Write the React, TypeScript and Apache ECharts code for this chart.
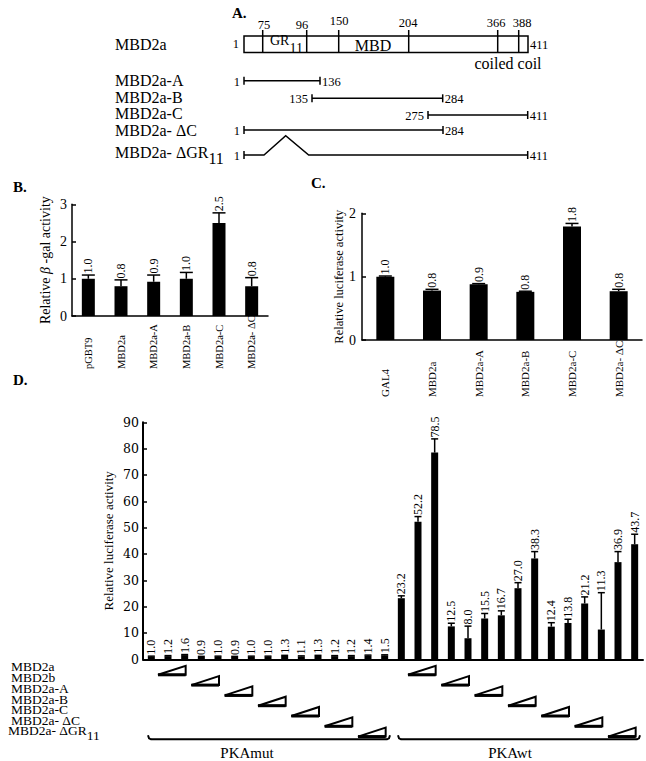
import React, { useEffect, useRef } from "react";
import * as echarts from "echarts";

const FONT = '"Liberation Serif", "Times New Roman", serif';

// ---------- Panel A (schematic) ----------
const domainSites = [75, 96, 150, 204, 366, 388];
const proteinStart = 1;
const proteinEnd = 411;
const constructNames = ["MBD2a-A", "MBD2a-B", "MBD2a-C", "MBD2a- ΔC", "MBD2a- ΔGR"];
const constructStarts = [1, 135, 275, 1, 1];
const constructEnds = [136, 284, 411, 284, 411];

// ---------- Panel B ----------
const bCategories = ["pGBT9", "MBD2a", "MBD2a-A", "MBD2a-B", "MBD2a-C", "MBD2a- ΔC"];
const bValues = [1.0, 0.8, 0.92, 1.0, 2.5, 0.8];
const bErrorTops = [1.1, 0.97, 1.1, 1.17, 2.77, 1.03];
const bLabels = ["1.0", "0.8", "0.9", "1.0", "2.5", "0.8"];

// ---------- Panel C ----------
const cCategories = ["GAL4", "MBD2a", "MBD2a-A", "MBD2a-B", "MBD2a-C", "MBD2a- ΔC"];
const cValues = [1.0, 0.78, 0.88, 0.76, 1.79, 0.77];
const cErrorTops = [1.01, 0.8, 0.89, 0.77, 1.84, 0.8];
const cLabels = ["1.0", "0.8", "0.9", "0.8", "1.8", "0.8"];

// ---------- Panel D ----------
const dGroups = ["PKAmut", "PKAwt"];
const dConstructs = ["MBD2a", "MBD2b", "MBD2a-A", "MBD2a-B", "MBD2a-C", "MBD2a- ΔC", "MBD2a- ΔGR"];
const dValues = [
  1.0, 1.2, 1.6, 0.9, 1.0, 0.9, 1.0, 1.0, 1.3, 1.1, 1.3, 1.2, 1.2, 1.4, 1.5,
  23.2, 52.2, 78.5, 12.5, 8.0, 15.5, 16.7, 27.0, 38.3, 12.4, 13.8, 21.2, 11.3, 36.9, 43.7,
];
const dErrorTops = [
  1.2, 1.4, 1.8, 1.1, 1.2, 1.1, 1.2, 1.2, 1.5, 1.3, 1.5, 1.4, 1.4, 1.6, 1.7,
  24.1, 54.2, 83.7, 13.7, 12.6, 17.4, 18.4, 29.1, 40.9, 13.9, 15.2, 23.7, 25.3, 40.9, 47.5,
];
const dLabels = [
  "1.0", "1.2", "1.6", "0.9", "1.0", "0.9", "1.0", "1.0", "1.3", "1.1", "1.3", "1.2", "1.2", "1.4", "1.5",
  "23.2", "52.2", "78.5", "12.5", "8.0", "15.5", "16.7", "27.0", "38.3", "12.4", "13.8", "21.2", "11.3", "36.9", "43.7",
];
const dTicks = { min: 0, max: 90, interval: 10 };

// ---------- layout (pixels, not data) ----------
const A_LAYOUT = {
  boxX: 244, boxY: 36, boxW: 284, boxH: 16.5,
  sitePx: [262.7, 306.7, 338.7, 408.7, 497.7, 518.7],
  siteLabelX: [264, 302, 339, 408, 496, 522],
  siteLabelY: [24.5, 24.5, 21, 23, 23, 23],
  lineY: [80.7, 98.3, 115, 130, 155],
  lineX: [[244, 320], [312, 442.7], [428, 527.7], [244, 443], [244, 527.7]],
  nameY: [80, 97.5, 113.3, 130, 153.3],
};
const D_ROW_Y = [666, 677, 688.5, 699, 709.5, 720, 731];
const D_GROUP_LABEL_SHIFT = [-22, -9];

function buildGraphic() {
  const els: any[] = [];
  const txt = (x: number, y: number, text: string, size: number, align = "left", extra: any = {}) => ({
    type: "text",
    x,
    y,
    style: {
      text,
      fill: "#000",
      font: `${extra.weight || "normal"} ${size}px ${FONT}`,
      align,
      verticalAlign: "middle",
      textAlign: align,
      textVerticalAlign: "middle",
    },
  });
  const ln = (x1: number, y1: number, x2: number, y2: number, w = 1.5) => ({
    type: "line",
    shape: { x1, y1, x2, y2 },
    style: { stroke: "#000", lineWidth: w },
  });

  // panel letters
  els.push(txt(232, 13, "A.", 15, "left", { weight: "bold" }));
  els.push(txt(13, 187, "B.", 15, "left", { weight: "bold" }));
  els.push(txt(311, 183, "C.", 15, "left", { weight: "bold" }));
  els.push(txt(13, 380, "D.", 15, "left", { weight: "bold" }));

  const L = A_LAYOUT;
  els.push(txt(115, 44, "MBD2a", 16));
  els.push({
    type: "rect",
    shape: { x: L.boxX, y: L.boxY, width: L.boxW, height: L.boxH },
    style: { fill: "#fff", stroke: "#000", lineWidth: 1.5 },
  });
  domainSites.forEach((s, i) => {
    const x = L.sitePx[i];
    els.push(ln(x, 30, x, L.boxY + L.boxH));
    els.push(txt(L.siteLabelX[i], L.siteLabelY[i], String(s), 12.5, "center"));
  });
  els.push(txt(L.boxX - 5, 44, String(proteinStart), 12.5, "right"));
  els.push(txt(L.boxX + L.boxW + 2, 45, String(proteinEnd), 12.5, "left"));
  els.push({
    type: "text",
    x: 270,
    y: 44,
    style: {
      text: "{a|GR}{s|11}",
      fill: "#000",
      align: "left",
      verticalAlign: "middle",
      rich: {
        a: { fontFamily: FONT, fontSize: 14, lineHeight: 14, verticalAlign: "top" },
        s: { fontFamily: FONT, fontSize: 14, lineHeight: 22, verticalAlign: "bottom" },
      },
    },
  });
  els.push(txt(373, 45, "MBD", 16, "center"));
  els.push(txt(508, 63, "coiled coil", 16, "center"));

  constructNames.forEach((name, i) => {
    const y = L.lineY[i];
    const [x1, x2] = L.lineX[i];
    if (i === 4) {
      els.push({
        type: "text",
        x: 115,
        y: L.nameY[i] + 2,
        style: {
          text: `{a|${name}}{s|11}`,
          fill: "#000",
          align: "left",
          verticalAlign: "middle",
          rich: {
            a: { fontFamily: FONT, fontSize: 16, lineHeight: 16, verticalAlign: "top" },
            s: { fontFamily: FONT, fontSize: 16, lineHeight: 22, verticalAlign: "bottom" },
          },
        },
      });
      els.push({
        type: "polyline",
        shape: { points: [[x1, y], [264, y], [285.7, 135.7], [308.7, y], [x2, y]] },
        style: { stroke: "#000", lineWidth: 1.5, fill: null },
      });
    } else {
      els.push(txt(115, L.nameY[i], name, 16));
      els.push(ln(x1, y, x2, y));
    }
    els.push(ln(x1, y - 4, x1, y + 4));
    els.push(ln(x2, y - 4, x2, y + 4));
    els.push(txt(x1 - 4, y + 1, String(constructStarts[i]), 12.5, "right"));
    els.push(txt(x2 + 2, y + 1, String(constructEnds[i]), 12.5, "left"));
  });

  dConstructs.forEach((name, k) => {
    if (k === dConstructs.length - 1) {
      els.push({
        type: "text",
        x: 8,
        y: D_ROW_Y[k] + 2,
        style: {
          text: `{a|${name}}{s|11}`,
          fill: "#000",
          align: "left",
          verticalAlign: "middle",
          rich: {
            a: { fontFamily: FONT, fontSize: 13.5, lineHeight: 13, verticalAlign: "top" },
            s: { fontFamily: FONT, fontSize: 13.5, lineHeight: 19, verticalAlign: "bottom" },
          },
        },
      });
    } else {
      els.push(txt(11, D_ROW_Y[k], name, 13.5));
    }
  });
  return els;
}

function errorSeries(idx: number, values: number[], tops: number[], labels: string[], capW: number, fontSize: number) {
  return {
    type: "custom",
    xAxisIndex: idx,
    yAxisIndex: idx,
    z: 5,
    encode: { x: 0, y: [1, 2] },
    data: values.map((v, i) => [i, v, tops[i]]),
    renderItem: (params: any, api: any) => {
      const i = api.value(0);
      const base = api.coord([i, api.value(1)]);
      const top = api.coord([i, api.value(2)]);
      return {
        type: "group",
        children: [
          { type: "line", shape: { x1: base[0], y1: base[1], x2: top[0], y2: top[1] }, style: { stroke: "#000", lineWidth: 1.5 } },
          { type: "line", shape: { x1: top[0] - capW / 2, y1: top[1], x2: top[0] + capW / 2, y2: top[1] }, style: { stroke: "#000", lineWidth: 1.5 } },
          {
            type: "text",
            x: top[0],
            y: top[1] - 1.5,
            rotation: Math.PI / 2,
            style: {
              text: labels[params.dataIndex],
              fill: "#000",
              font: `${fontSize}px ${FONT}`,
              align: "left",
              verticalAlign: "middle",
              textAlign: "left",
              textVerticalAlign: "middle",
            },
          },
        ],
      };
    },
  };
}

function buildOption() {
  const axisLine = { show: true, lineStyle: { color: "#000", width: 1.5 } };
  const yTick = { show: true, inside: true, length: 4, lineStyle: { color: "#000", width: 1.5 } };

  const groupSize = 1 + dConstructs.length * 2;
  const dCategories: string[] = [];
  dGroups.forEach((g) => {
    dCategories.push(`${g} GAL4`);
    dConstructs.forEach((c) => {
      dCategories.push(`${g} ${c} low`);
      dCategories.push(`${g} ${c} high`);
    });
  });

  const triData: number[][] = [];
  dGroups.forEach((g, gi) => {
    dConstructs.forEach((c, k) => {
      triData.push([gi * groupSize + 1 + 2 * k, 0, k]);
    });
  });
  const bracketData = dGroups.map((g, gi) => [gi * groupSize, 0, gi * groupSize + groupSize - 1]);

  return {
    animation: false,
    backgroundColor: "#fff",
    textStyle: { fontFamily: FONT, color: "#000" },
    graphic: buildGraphic(),
    grid: [
      { left: 72, top: 204.3, width: 196, height: 111.7 },
      { left: 362, top: 213.3, width: 280, height: 126.7 },
      { left: 143, top: 422.3, width: 500, height: 237 },
    ],
    xAxis: [
      {
        gridIndex: 0, type: "category", data: bCategories, axisLine, axisTick: { show: false },
        axisLabel: { rotate: 90, align: "left", margin: 53, interval: 0, fontSize: 10.5, fontFamily: FONT, color: "#000" },
      },
      {
        gridIndex: 1, type: "category", data: cCategories, axisLine, axisTick: { show: false },
        axisLabel: { rotate: 90, align: "left", margin: 57, interval: 0, fontSize: 11, fontFamily: FONT, color: "#000" },
      },
      {
        gridIndex: 2, type: "category", data: dCategories, axisLine: { show: true, lineStyle: { color: "#000", width: 2 } },
        axisTick: { show: false }, axisLabel: { show: false },
      },
    ],
    yAxis: [
      {
        gridIndex: 0, type: "value", min: 0, max: 3, interval: 1, axisLine, axisTick: yTick, splitLine: { show: false },
        axisLabel: { fontSize: 14, fontFamily: FONT, color: "#000", margin: 5 },
        name: "Relative {i|β} -gal activity", nameLocation: "middle", nameGap: 20, nameMoveOverlap: false,
        nameTextStyle: { fontSize: 14, fontFamily: FONT, color: "#000", rich: { i: { fontSize: 14, fontFamily: FONT, fontStyle: "italic" } } },
      },
      {
        gridIndex: 1, type: "value", min: 0, max: 2, interval: 1, axisLine, axisTick: yTick, splitLine: { show: false },
        axisLabel: { fontSize: 14, fontFamily: FONT, color: "#000", margin: 6 },
        name: "Relative luciferase activity", nameLocation: "middle", nameGap: 17, nameMoveOverlap: false,
        nameTextStyle: { fontSize: 12.5, fontFamily: FONT, color: "#000" },
      },
      {
        gridIndex: 2, type: "value", min: dTicks.min, max: dTicks.max, interval: dTicks.interval,
        axisLine: { show: true, lineStyle: { color: "#000", width: 2 } }, axisTick: yTick, splitLine: { show: false },
        axisLabel: { fontSize: 12.5, fontFamily: '"DejaVu Serif", serif', color: "#000", margin: 4 },
        name: "Relative luciferase activity", nameLocation: "middle", nameGap: 28, nameMoveOverlap: false,
        nameTextStyle: { fontSize: 13, fontFamily: FONT, color: "#000" },
      },
    ],
    series: [
      { type: "bar", xAxisIndex: 0, yAxisIndex: 0, data: bValues, barWidth: 13, itemStyle: { color: "#000" } },
      errorSeries(0, bValues, bErrorTops, bLabels, 13, 12),
      { type: "bar", xAxisIndex: 1, yAxisIndex: 1, data: cValues, barWidth: 18, itemStyle: { color: "#000" } },
      errorSeries(1, cValues, cErrorTops, cLabels, 13, 12),
      { type: "bar", xAxisIndex: 2, yAxisIndex: 2, data: dValues, barWidth: 7, itemStyle: { color: "#000" } },
      errorSeries(2, dValues, dErrorTops, dLabels, 7, 12),
      {
        type: "custom",
        xAxisIndex: 2,
        yAxisIndex: 2,
        encode: { x: 0, y: 1 },
        data: triData,
        renderItem: (params: any, api: any) => {
          const i = api.value(0);
          const k = api.value(2);
          const p1 = api.coord([i, 0]);
          const p2 = api.coord([i + 1, 0]);
          const top = p1[1] + 6.5 + k * 10.3;
          const bot = top + 9;
          const xl = p1[0] - 10;
          const xr = p2[0] + 1;
          return {
            type: "group",
            children: [
              { type: "polygon", shape: { points: [[xl, bot], [xr, bot], [xr, top]] }, style: { fill: "#fff", stroke: "#000", lineWidth: 2 } },
              { type: "line", shape: { x1: xl, y1: bot, x2: xr, y2: bot }, style: { stroke: "#000", lineWidth: 3 } },
            ],
          };
        },
      },
      {
        type: "custom",
        xAxisIndex: 2,
        yAxisIndex: 2,
        encode: { x: 0, y: 1 },
        data: bracketData,
        renderItem: (params: any, api: any) => {
          const s = api.value(0);
          const e = api.value(2);
          const ps = api.coord([s, 0]);
          const pe = api.coord([e, 0]);
          const bw = api.coord([s + 1, 0])[0] - ps[0];
          const xs = ps[0] - bw / 2 + 5;
          const xe = pe[0] + bw / 2 - 3;
          const y = ps[1] + 80;
          return {
            type: "group",
            children: [
              {
                type: "polyline",
                shape: { points: [[xs, y - 4], [xs + 1, y - 1], [xs + 3, y], [xe - 3, y], [xe - 1, y - 1], [xe, y - 4]] },
                style: { stroke: "#000", lineWidth: 2, fill: null },
              },
              {
                type: "text",
                x: (xs + xe) / 2 + D_GROUP_LABEL_SHIFT[params.dataIndex],
                y: y + 14,
                style: {
                  text: dGroups[params.dataIndex],
                  fill: "#000",
                  font: `15px ${FONT}`,
                  align: "center",
                  verticalAlign: "middle",
                  textAlign: "center",
                  textVerticalAlign: "middle",
                },
              },
            ],
          };
        },
      },
    ],
  };
}

export default function App() {
  const ref = useRef<HTMLDivElement>(null);
  useEffect(() => {
    const chart = echarts.init(ref.current!, null, { renderer: "svg" });
    chart.setOption(buildOption() as any);
    return () => chart.dispose();
  }, []);
  return (
    <div
      ref={ref}
      style={{ position: "absolute", left: 0, top: 0, width: 646, height: 761, background: "#fff" }}
    />
  );
}
